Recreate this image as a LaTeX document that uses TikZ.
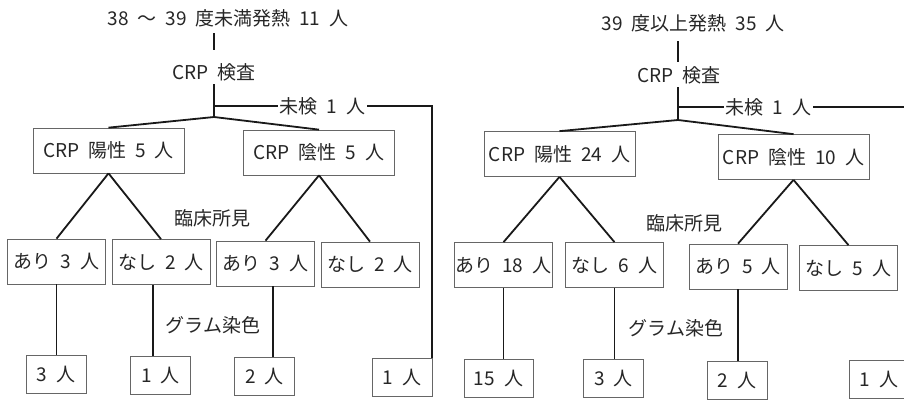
\documentclass[tikz,border=0pt]{standalone}
\usepackage{fontspec}
\setmainfont{Noto Sans CJK JP}[WordSpace=2.1]
\begin{document}
\begin{tikzpicture}[x=1pt,y=-1pt,
  every node/.style={font=\fontsize{19}{22}\selectfont, text=black!85},
  box/.style={draw=black!60, line width=0.7pt, inner sep=0pt, minimum height=45pt},
  bigbox/.style={box, minimum width=151pt},
  midbox/.style={box, minimum width=98pt},
  smallbox/.style={box, minimum width=60pt, minimum height=38pt},
  conn/.style={line width=1.8pt, draw=black!90},
  lbl/.style={inner sep=2pt}]
\clip (0,0) rectangle (904,400);
% ---------------- left tree ----------------
\node[lbl] (t1) at (228,18) {38 ～ 39 度未満発熱 11 人};
\node[lbl] (k1) at (214,72) {CRP 検査};
\coordinate (k1top) at (214,33);
\coordinate (k1a) at (214,50);
\coordinate (k1b) at (214,84);
\coordinate (s1) at (214,117);
\coordinate (b1) at (214,106);
\node[lbl] (m1) at (322.5,106) {未検 1 人};
\node[bigbox] (pos1) at (108.5,150.5) {CRP 陽性 5 人};
\node[bigbox] (neg1) at (319,152.5) {CRP 陰性 5 人};
\node[lbl] (c1) at (212,218) {臨床所見};
\node[midbox] (ar1) at (56.5,261.5) {あり 3 人};
\node[midbox] (na1) at (161,262) {なし 2 人};
\node[midbox] (ar2) at (265.5,263.5) {あり 3 人};
\node[midbox] (na2) at (370,264.5) {なし 2 人};
\node[lbl] (g1) at (213,325) {グラム染色};
\node[smallbox] (r3a) at (56,374.5) {3 人};
\node[smallbox] (r3b) at (160.5,375.5) {1 人};
\node[smallbox] (r3c) at (264.5,376) {2 人};
\node[smallbox] (r3d) at (402,377) {1 人};
\draw[conn] (k1top) -- (k1a);
\draw[conn] (k1b) -- (s1);
\draw[conn] (s1) -- (pos1.north);
\draw[conn] (s1) -- (neg1.north);
\draw[conn] (b1) -- (m1.west);
\draw[conn] (m1.east) -- (m1.east -| r3d.north east) -- (r3d.north east);
\draw[conn] (pos1.south) -- (ar1.north);
\draw[conn] (pos1.south) -- (na1.north);
\draw[conn] (neg1.south) -- (ar2.north);
\draw[conn] (neg1.south) -- (na2.north);
\draw[conn] (ar1.south) -- (ar1.south |- r3a.north);
\draw[conn] ([xshift=-8pt]na1.south) -- ([xshift=-8pt]na1.south |- r3b.north);
\draw[conn] ([xshift=7.5pt]ar2.south) -- ([xshift=7.5pt]ar2.south |- r3c.north);
% ---------------- right tree ----------------
\node[lbl] (t2) at (693,23) {39 度以上発熱 35 人};
\node[lbl] (k2) at (679,75) {CRP 検査};
\coordinate (k2top) at (678,41);
\coordinate (k2a) at (678,62);
\coordinate (k2b) at (678,87);
\coordinate (s2) at (678,120);
\coordinate (b2) at (678,107);
\node[lbl] (m2) at (768.5,107) {未検 1 人};
\node[bigbox] (pos2) at (559.5,154) {CRP 陽性 24 人};
\node[bigbox] (neg2) at (793.5,157) {CRP 陰性 10 人};
\node[lbl] (c2) at (684,223) {臨床所見};
\node[midbox] (ar3) at (503.5,265) {あり 18 人};
\node[midbox] (na3) at (614.5,265) {なし 6 人};
\node[midbox] (ar4) at (738,266.5) {あり 5 人};
\node[midbox] (na4) at (848.5,268) {なし 5 人};
\node[lbl] (g2) at (676,328) {グラム染色};
\node[smallbox, minimum width=69pt] (r3e) at (498.5,378) {15 人};
\node[smallbox] (r3f) at (613.5,378.5) {3 人};
\node[smallbox] (r3g) at (737,380) {2 人};
\node[smallbox] (r3h) at (879,379) {1 人};
\draw[conn] (k2top) -- (k2a);
\draw[conn] (k2b) -- (s2);
\draw[conn] (s2) -- (pos2.north);
\draw[conn] (s2) -- (neg2.north);
\draw[conn] (b2) -- (m2.west);
\draw[conn] (m2.east) -- (m2.east -| r3h.north east) -- (r3h.north east);
\draw[conn] (pos2.south) -- (ar3.north);
\draw[conn] (pos2.south) -- (na3.north);
\draw[conn] (neg2.south) -- (ar4.north);
\draw[conn] (neg2.south) -- (na4.north);
\draw[conn] (ar3.south) -- (ar3.south |- r3e.north);
\draw[conn] (na3.south) -- (na3.south |- r3f.north);
\draw[conn] (ar4.south) -- (ar4.south |- r3g.north);
\end{tikzpicture}
\end{document}
